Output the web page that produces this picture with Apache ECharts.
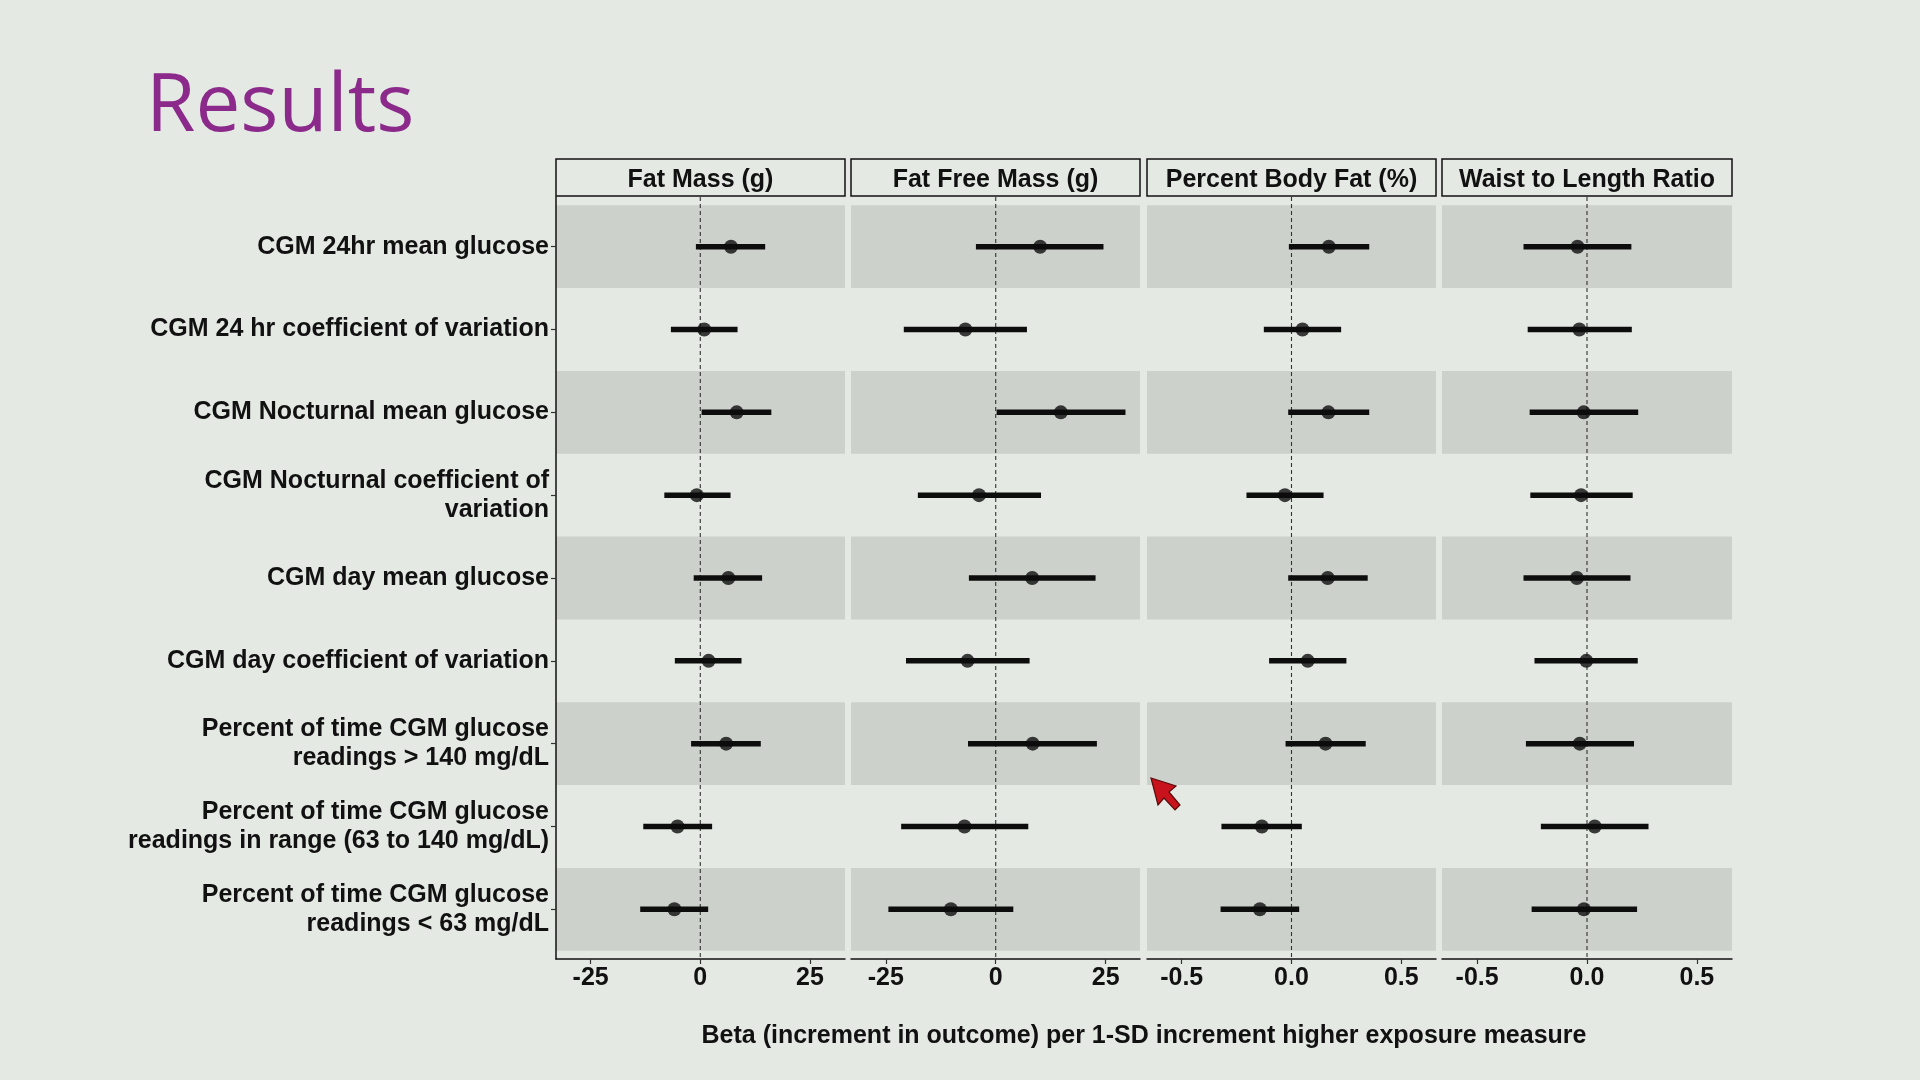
<!DOCTYPE html>
<html>
<head>
<meta charset="utf-8">
<script src="https://cdn.jsdelivr.net/npm/echarts@6/dist/echarts.min.js"></script>
<style>
html,body{margin:0;padding:0;background:#e4e9e4;}
#chart{width:1920px;height:1080px;}
</style>
</head>
<body>
<div id="chart"></div>
<script>
// ---------------- data ----------------
const categories = [
  'CGM 24hr mean glucose',
  'CGM 24 hr coefficient of variation',
  'CGM Nocturnal mean glucose',
  'CGM Nocturnal coefficient of\nvariation',
  'CGM day mean glucose',
  'CGM day coefficient of variation',
  'Percent of time CGM glucose\nreadings > 140 mg/dL',
  'Percent of time CGM glucose\nreadings in range (63 to 140 mg/dL)',
  'Percent of time CGM glucose\nreadings < 63 mg/dL'
];
const panelTitles = ['Fat Mass (g)', 'Fat Free Mass (g)', 'Percent Body Fat (%)', 'Waist to Length Ratio'];

const fatMassEst  = [7.0, 0.9, 8.3, -0.8, 6.4, 1.9, 5.9, -5.2, -5.9];
const fatMassLow  = [-1.0, -6.7, 0.3, -8.2, -1.5, -5.8, -2.1, -13.0, -13.7];
const fatMassHigh = [14.8, 8.5, 16.2, 6.9, 14.1, 9.4, 13.8, 2.7, 1.8];

const fatFreeEst  = [10.1, -6.9, 14.8, -3.8, 8.3, -6.4, 8.4, -7.1, -10.2];
const fatFreeLow  = [-4.5, -20.9, 0.2, -17.7, -6.1, -20.4, -6.3, -21.5, -24.4];
const fatFreeHigh = [24.5, 7.1, 29.5, 10.3, 22.7, 7.7, 23.0, 7.4, 4.0];

const bodyFatEst  = [0.170, 0.050, 0.168, -0.030, 0.165, 0.074, 0.155, -0.135, -0.144];
const bodyFatLow  = [-0.012, -0.126, -0.015, -0.205, -0.015, -0.102, -0.027, -0.319, -0.323];
const bodyFatHigh = [0.354, 0.226, 0.354, 0.146, 0.347, 0.250, 0.338, 0.047, 0.035];

const waistEst  = [-0.043, -0.035, -0.015, -0.027, -0.046, -0.003, -0.033, 0.035, -0.014];
const waistLow  = [-0.289, -0.270, -0.261, -0.258, -0.289, -0.239, -0.278, -0.210, -0.252];
const waistHigh = [0.202, 0.204, 0.233, 0.208, 0.198, 0.231, 0.214, 0.280, 0.228];

const gramTicks = [-25, 0, 25];
const gramTickLabels = ['-25', '0', '25'];
const ratioTicks = [-0.5, 0, 0.5];
const ratioTickLabels = ['-0.5', '0.0', '0.5'];
const shadedRows = [1, 3, 5, 7, 9];
const xAxisTitle = 'Beta (increment in outcome) per 1-SD increment higher exposure measure';
const slideTitle = 'Results';

// ---------------- layout / style ----------------
const BG = '#e4e9e4';
const BAND = '#cdd1cc';
const INK = '#111111';
const FONT = '"Liberation Sans", Arial, Helvetica, sans-serif';
const TOP = 197, HEIGHT = 762;

const panels = [
  {left: 556, width: 289, min: -32.9, max: 33.0, ticks: gramTicks, tickLabels: gramTickLabels, est: fatMassEst, low: fatMassLow, high: fatMassHigh},
  {left: 851, width: 289, min: -32.9, max: 32.8, ticks: gramTicks, tickLabels: gramTickLabels, est: fatFreeEst, low: fatFreeLow, high: fatFreeHigh},
  {left: 1147, width: 289, min: -0.658, max: 0.658, ticks: ratioTicks, tickLabels: ratioTickLabels, est: bodyFatEst, low: bodyFatLow, high: bodyFatHigh},
  {left: 1442, width: 290, min: -0.66, max: 0.66, ticks: ratioTicks, tickLabels: ratioTickLabels, est: waistEst, low: waistLow, high: waistHigh}
];

const chart = echarts.init(document.getElementById('chart'), null, {renderer: 'canvas'});

const grids = panels.map(p => ({left: p.left, top: TOP, width: p.width, height: HEIGHT, containLabel: false}));

const xAxes = panels.map((p, i) => ({
  type: 'value', gridIndex: i, min: p.min, max: p.max, z: 6,
  axisLine: {show: true, onZero: false, lineStyle: {color: INK, width: 1.5}},
  axisTick: {show: true, length: 5, customValues: p.ticks, lineStyle: {color: '#333', width: 1.2}},
  axisLabel: {
    customValues: p.ticks,
    formatter: v => { const k = p.ticks.findIndex(t => Math.abs(t - v) < 1e-9); return k >= 0 ? p.tickLabels[k] : ''; },
    fontSize: 25, fontWeight: 'bold', color: INK, fontFamily: FONT, margin: 7
  },
  splitLine: {show: false}
}));

const rowValues = categories.map((c, k) => k + 1);
const yAxes = panels.map((p, i) => ({
  type: 'value', gridIndex: i, min: 0.4, max: 9.6, inverse: true, z: 6,
  axisLine: {show: i === 0, onZero: false, lineStyle: {color: INK, width: 1.5}},
  axisTick: {show: i === 0, length: 5, customValues: rowValues, lineStyle: {color: '#333', width: 1.2}},
  axisLabel: {
    show: i === 0,
    customValues: rowValues,
    formatter: v => categories[Math.round(v) - 1] || '',
    fontSize: 25, fontWeight: 'bold', color: INK, fontFamily: FONT,
    align: 'right', lineHeight: 29, margin: 7, padding: [3, 0, 0, 0]
  },
  splitLine: {show: false}
}));

const series = [];
panels.forEach((p, i) => {
  // shaded rows
  series.push({
    type: 'custom', xAxisIndex: i, yAxisIndex: i, z: 1, silent: true,
    data: shadedRows.map(r => [r]),
    encode: {y: 0},
    renderItem: (params, api) => {
      const r = api.value(0);
      const cs = params.coordSys;
      const a = api.coord([p.min, r - 0.5]);
      const b = api.coord([p.min, r + 0.5]);
      return {type: 'rect', shape: {x: cs.x, y: Math.min(a[1], b[1]), width: cs.width, height: Math.abs(b[1] - a[1])}, style: {fill: BAND}};
    }
  });
  // zero reference line
  series.push({
    type: 'custom', xAxisIndex: i, yAxisIndex: i, z: 2, silent: true,
    data: [[0]],
    encode: {x: 0},
    renderItem: (params, api) => {
      const a = api.coord([api.value(0), 0.4]);
      const b = api.coord([api.value(0), 9.6]);
      return {type: 'line', shape: {x1: a[0], y1: a[1], x2: b[0], y2: b[1]}, style: {stroke: '#333', lineWidth: 1.1, lineDash: [4, 3]}};
    }
  });
  // confidence intervals
  series.push({
    type: 'custom', xAxisIndex: i, yAxisIndex: i, z: 3, silent: true,
    data: p.low.map((l, k) => [l, p.high[k], k + 1]),
    encode: {x: [0, 1], y: 2},
    renderItem: (params, api) => {
      const a = api.coord([api.value(0), api.value(2)]);
      const b = api.coord([api.value(1), api.value(2)]);
      return {type: 'line', shape: {x1: a[0], y1: a[1], x2: b[0], y2: b[1]}, style: {stroke: '#0d0d0d', lineWidth: 5.5}};
    }
  });
  // point estimates
  series.push({
    type: 'scatter', xAxisIndex: i, yAxisIndex: i, z: 4, silent: true,
    symbol: 'circle', symbolSize: 14,
    itemStyle: {color: '#0d0d0d'},
    data: p.est.map((e, k) => [e, k + 1])
  });
});

const graphics = [];
panels.forEach((p, i) => {
  graphics.push({
    type: 'rect', silent: true,
    shape: {x: p.left, y: 159, width: p.width, height: 37},
    style: {fill: BG, stroke: INK, lineWidth: 1.5}
  });
  graphics.push({
    type: 'text', silent: true,
    x: p.left + p.width / 2, y: 180,
    style: {text: panelTitles[i], fill: INK, font: 'bold 25px ' + FONT, align: 'center', verticalAlign: 'middle'}
  });
});
graphics.push({
  type: 'text', silent: true, x: 1144, y: 1036,
  style: {text: xAxisTitle, fill: INK, font: 'bold 25px ' + FONT, align: 'center', verticalAlign: 'middle'}
});
graphics.push({
  type: 'text', silent: true, x: 146, y: 68,
  style: {text: slideTitle, fill: '#8b2a8a', font: '80px "Open Sans", "Noto Sans", sans-serif', align: 'left', verticalAlign: 'top'}
});
// mouse cursor visible in the slide
graphics.push({
  type: 'polygon', silent: true, x: 1151, y: 778, z: 100,
  shape: {points: [[0, 0], [25, 8], [18, 14], [29, 27], [24, 32], [13, 20], [7, 27]]},
  style: {fill: '#c8121c', stroke: '#5a0a0a', lineWidth: 1.2}
});

chart.setOption({
  backgroundColor: BG,
  animation: false,
  textStyle: {fontFamily: FONT},
  grid: grids,
  xAxis: xAxes,
  yAxis: yAxes,
  series: series,
  graphic: graphics
});
</script>
</body>
</html>
